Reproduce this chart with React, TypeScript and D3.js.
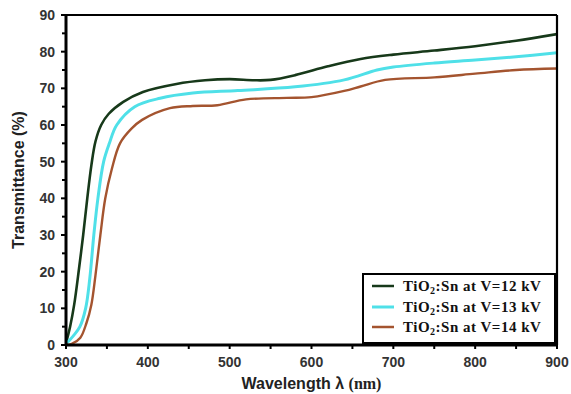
import React from "react";
import * as d3 from "d3";

const wl12 = [300, 305, 310, 316, 321, 326, 331, 336, 343, 352, 370, 394, 435, 470, 500, 530, 550, 580, 620, 660, 700, 750, 800, 850, 900];
const t12 = [0.5, 5, 11, 21, 30, 40, 49, 55.5, 60, 63, 66.3, 69, 71.2, 72.2, 72.5, 72.2, 72.3, 73.6, 76, 78, 79.2, 80.3, 81.5, 83, 84.8];

const wl13 = [300, 309, 317, 324, 329, 334, 339, 346, 353, 362, 384, 415, 455, 510, 580, 640, 680, 700, 750, 800, 850, 900];
const t13 = [0.3, 2.5, 5, 10, 18, 30, 40, 50, 55, 60, 65, 67.3, 68.7, 69.4, 70.4, 72.3, 75, 75.8, 76.9, 77.7, 78.6, 79.7];

const wl14 = [300, 307, 317.5, 325, 331, 336, 342, 348, 356, 366, 380, 393, 427, 455, 485, 520, 570, 600, 640, 660, 690, 750, 800, 850, 900];
const t14 = [0, 0.3, 2, 6, 11, 19, 30, 40, 48, 55, 59, 61.4, 64.6, 65.2, 65.4, 67, 67.4, 67.6, 69.3, 70.5, 72.3, 73, 74, 75, 75.4];

const seriesNames = ["12", "13", "14"];
const seriesColors = ["#17391a", "#4fe0e8", "#a4542f"];
const xTicks = [300, 400, 500, 600, 700, 800, 900];
const yTicks = [0, 10, 20, 30, 40, 50, 60, 70, 80, 90];

export default function App() {
  const W = 571, H = 394;
  const L = 66, R = 557, T = 15, B = 345;
  const x = d3.scaleLinear().domain([300, 900]).range([L, R]);
  const y = d3.scaleLinear().domain([0, 90]).range([B, T]);
  const line = d3
    .line<[number, number]>()
    .x((d) => x(d[0]))
    .y((d) => y(d[1]))
    .curve(d3.curveCatmullRom.alpha(0.5));
  const data = [
    d3.zip(wl12, t12) as [number, number][],
    d3.zip(wl13, t13) as [number, number][],
    d3.zip(wl14, t14) as [number, number][],
  ];
  const widths = [2.6, 3, 2.4];
  const minorY = d3.range(5, 90, 10);
  const minorX = d3.range(300, 901, 50);
  const sans = "'Liberation Sans', Arial, sans-serif";
  const serif = "'Liberation Serif', 'Times New Roman', serif";
  const legX = 363, legY = 274, legW = 192, legH = 69;
  const rowY = [286, 307, 327];

  return (
    <svg width={W} height={H} style={{ position: "absolute", left: 0, top: 0, background: "#fff" }}>
      <rect x={0} y={0} width={W} height={H} fill="#fff" />
      <defs>
        <clipPath id="plot">
          <rect x={L} y={T - 2} width={R - L} height={B - T + 2} />
        </clipPath>
      </defs>
      <g clipPath="url(#plot)">
        {data.map((d, i) => (
          <path key={i} d={line(d) || ""} fill="none" stroke={seriesColors[i]} strokeWidth={widths[i]} />
        ))}
      </g>
      {/* frame */}
      <line x1={L} x2={R} y1={T} y2={T} stroke="#000" strokeWidth={2} />
      <line x1={R} x2={R} y1={T} y2={B} stroke="#000" strokeWidth={2.2} />
      <line x1={L} x2={L} y1={T - 1} y2={B + 1} stroke="#000" strokeWidth={3} />
      <line x1={L - 1} x2={R + 1} y1={B} y2={B} stroke="#000" strokeWidth={3} />
      {/* y ticks */}
      {yTicks.map((v) => (
        <g key={"y" + v}>
          <line x1={L - 5} x2={L} y1={y(v)} y2={y(v)} stroke="#000" strokeWidth={2} />
          <text x={L - 11} y={y(v)} dy="0.35em" textAnchor="end" fontFamily={sans} fontWeight="bold" fontSize={14} fill="#333">
            {v}
          </text>
        </g>
      ))}
      {minorY.map((v) => (
        <line key={"my" + v} x1={L - 4} x2={L} y1={y(v)} y2={y(v)} stroke="#000" strokeWidth={2} />
      ))}
      {minorX.map((v) => (
        <line key={"mx" + v} x1={x(v)} x2={x(v)} y1={B} y2={B + 4} stroke="#000" strokeWidth={2} />
      ))}
      {xTicks.map((v) => (
        <text key={"x" + v} x={x(v)} y={B + 22} textAnchor="middle" fontFamily={sans} fontWeight="bold" fontSize={14} fill="#333">
          {v}
        </text>
      ))}
      {/* axis titles */}
      <text
        transform={`translate(24,${(T + B) / 2}) rotate(-90)`}
        textAnchor="middle"
        fontFamily={sans}
        fontWeight="bold"
        fontSize={16}
        fill="#222"
      >
        Transmittance (%)
      </text>
      <text x={(L + R) / 2} y={389} textAnchor="middle" fontWeight="bold" fontSize={16} fill="#222">
        <tspan fontFamily={sans}>Wavelength λ </tspan>
        <tspan fontFamily={serif}>(nm)</tspan>
      </text>
      {/* legend */}
      <rect x={legX} y={legY} width={legW} height={legH} fill="#fff" stroke="#000" strokeWidth={2} />
      {seriesNames.map((n, i) => (
        <g key={n}>
          <line x1={372} x2={394} y1={rowY[i]} y2={rowY[i]} stroke={seriesColors[i]} strokeWidth={i === 1 ? 3 : 2.5} />
          <text x={403} y={rowY[i]} dy="0.35em" fontFamily={serif} fontWeight="bold" fontSize={15} fill="#111" letterSpacing={0.5}>
            TiO<tspan fontSize={10} dy={3}>2</tspan>
            <tspan dy={-3}>:Sn at V={n} kV</tspan>
          </text>
        </g>
      ))}
    </svg>
  );
}
